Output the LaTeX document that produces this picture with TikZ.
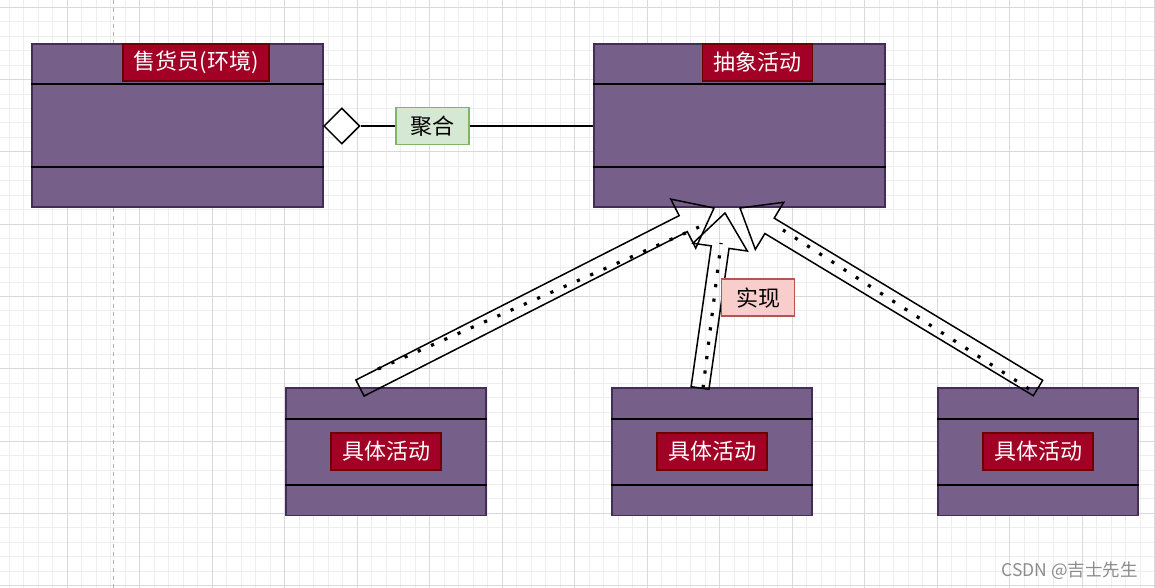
\documentclass[tikz,border=0pt]{standalone}
\usepackage{fontspec}
\setmainfont{Noto Sans CJK SC}
\usetikzlibrary{calc,shapes.geometric}
\definecolor{boxfill}{HTML}{76608A}
\definecolor{boxline}{HTML}{432D57}
\definecolor{lblfill}{HTML}{A20025}
\definecolor{lblline}{HTML}{6F0000}
\definecolor{aggfill}{HTML}{D5E8D4}
\definecolor{aggline}{HTML}{82B366}
\definecolor{impfill}{HTML}{F8CECC}
\definecolor{impline}{HTML}{B85450}
\definecolor{gridmaj}{HTML}{D9D9D9}
\definecolor{gridmin}{HTML}{EEEEEE}
\definecolor{wmark}{HTML}{8C8C8C}
\newcommand\FlexArrow[3]{%
  \coordinate (#3) at ($(#2)!34.5pt!(#1)$);
  \draw[flexarrow] ($(#1)!9pt!90:(#2)$) -- ($(#3)!9pt!90:(#2)$) -- ($(#3)!27.5pt!90:(#2)$)
    -- (#2) -- ($(#3)!27.5pt!-90:(#2)$) -- ($(#3)!9pt!-90:(#2)$) -- ($(#1)!9pt!-90:(#2)$) -- cycle;
}
\begin{document}
\begin{tikzpicture}[x=1pt,y=-1pt,
  umlbox/.style={draw=boxline,fill=boxfill,line width=1.5pt,inner sep=0pt},
  divider/.style={draw=black,line width=2pt},
  lbl/.style={draw=lblline,fill=lblfill,line width=1.2pt,text=white,inner sep=0pt,
    minimum height=37pt,font=\fontsize{22pt}{22pt}\selectfont},
  agglbl/.style={draw=aggline,fill=aggfill,line width=1.6pt,text=black,inner sep=0pt,
    minimum width=73pt,minimum height=37pt,font=\fontsize{22pt}{22pt}\selectfont},
  implbl/.style={draw=impline,fill=impfill,line width=1.6pt,text=black,inner sep=0pt,
    minimum width=73pt,minimum height=37pt,font=\fontsize{22pt}{22pt}\selectfont},
  flexarrow/.style={draw=black,line width=1.5pt,line join=miter},
  dotline/.style={draw=black,line width=3.2pt,dash pattern=on 3.2pt off 11.3pt},
  gridminline/.style={draw=gridmin,line width=1pt},
  gridmajline/.style={draw=gridmaj,line width=1pt},
  aggline/.style={draw=black,line width=1.5pt}
]
\useasboundingbox (0,0) rectangle (1155,588);
\fill[white] (0,0) rectangle (1155,588);
% grid
\foreach \i in {0,...,79} {\draw[gridminline] ({9+14.5*\i},0) -- ({9+14.5*\i},588);}
\foreach \i in {-1,...,40} {\draw[gridminline] (0,{7.3+14.46*\i}) -- (1155,{7.3+14.46*\i});}
\foreach \i in {-1,...,15} {\draw[gridmajline] ({67+72.5*\i},0) -- ({67+72.5*\i},588);}
\foreach \i in {0,...,8} {\draw[gridmajline] (0,{7.3+72.3*\i}) -- (1155,{7.3+72.3*\i});}
\draw[draw=gray!60,line width=1pt,dash pattern=on 4pt off 4pt] (113,0) -- (113,588);

% top boxes
\node[umlbox,minimum width=291pt,minimum height=163pt] (env) at (177.5,125.5) {};
\draw[divider] ([yshift=-41pt]env.north west) -- ([yshift=-41pt]env.north east);
\draw[divider] ([yshift=41pt]env.south west) -- ([yshift=41pt]env.south east);
\node[lbl,minimum width=146pt] (envlbl) at (196,62.5) {售货员(环境)};

\node[umlbox,minimum width=291pt,minimum height=163pt] (abs) at (739.5,125.5) {};
\draw[divider] ([yshift=-41pt]abs.north west) -- ([yshift=-41pt]abs.north east);
\draw[divider] ([yshift=41pt]abs.south west) -- ([yshift=41pt]abs.south east);
\node[lbl,minimum width=110pt] (abslbl) at (757.5,62.5) {抽象活动};

% bottom boxes
\foreach \n/\cx in {c1/386,c2/712,c3/1038} {
  \node[umlbox,minimum width=200pt,minimum height=127.5pt] (\n) at (\cx,451.75) {};
  \draw[divider] ([yshift=-32pt]\n.north west) -- ([yshift=-32pt]\n.north east);
  \draw[divider] ([yshift=31.5pt]\n.south west) -- ([yshift=31.5pt]\n.south east);
  \node[lbl,minimum width=110pt] (\n lbl) at (\cx,451.5) {具体活动};
}

% aggregation
\node[diamond,draw=black,fill=white,line width=1.5pt,aspect=1,minimum width=36pt,minimum height=36pt,inner sep=0pt,anchor=west] (dia) at (323,126) {};
\draw[aggline] (dia.east) -- (abs.west |- dia.east) node[agglbl,pos=0.31] (agg) {聚合};

% realization arrows
\coordinate (t1) at (360,388); \coordinate (p1) at (714,208);
\coordinate (t2) at (700,388); \coordinate (p2) at (725,213);
\coordinate (t3) at (1038,388); \coordinate (p3) at (740,208);
\FlexArrow{t1}{p1}{s1}
\FlexArrow{t2}{p2}{s2}
\FlexArrow{t3}{p3}{s3}
\coordinate (d1a) at (378,369); \coordinate (d1b) at (699,227);
\coordinate (d2a) at (703,388); \coordinate (d2b) at (721,243);
\coordinate (d3a) at (1029,389); \coordinate (d3b) at (783,230);
\draw[dotline] (d1a) -- (d1b);
\draw[dotline] (d2a) -- (d2b);
\draw[dotline] (d3a) -- (d3b);
\node[implbl] (imp) at (758,297.7) {实现};

% watermark
\node[anchor=east,text=wmark,inner sep=0pt,font=\fontsize{17.5pt}{17.5pt}\selectfont] (wm) at (1138,570.5) {CSDN @吉士先生};
\end{tikzpicture}
\end{document}
